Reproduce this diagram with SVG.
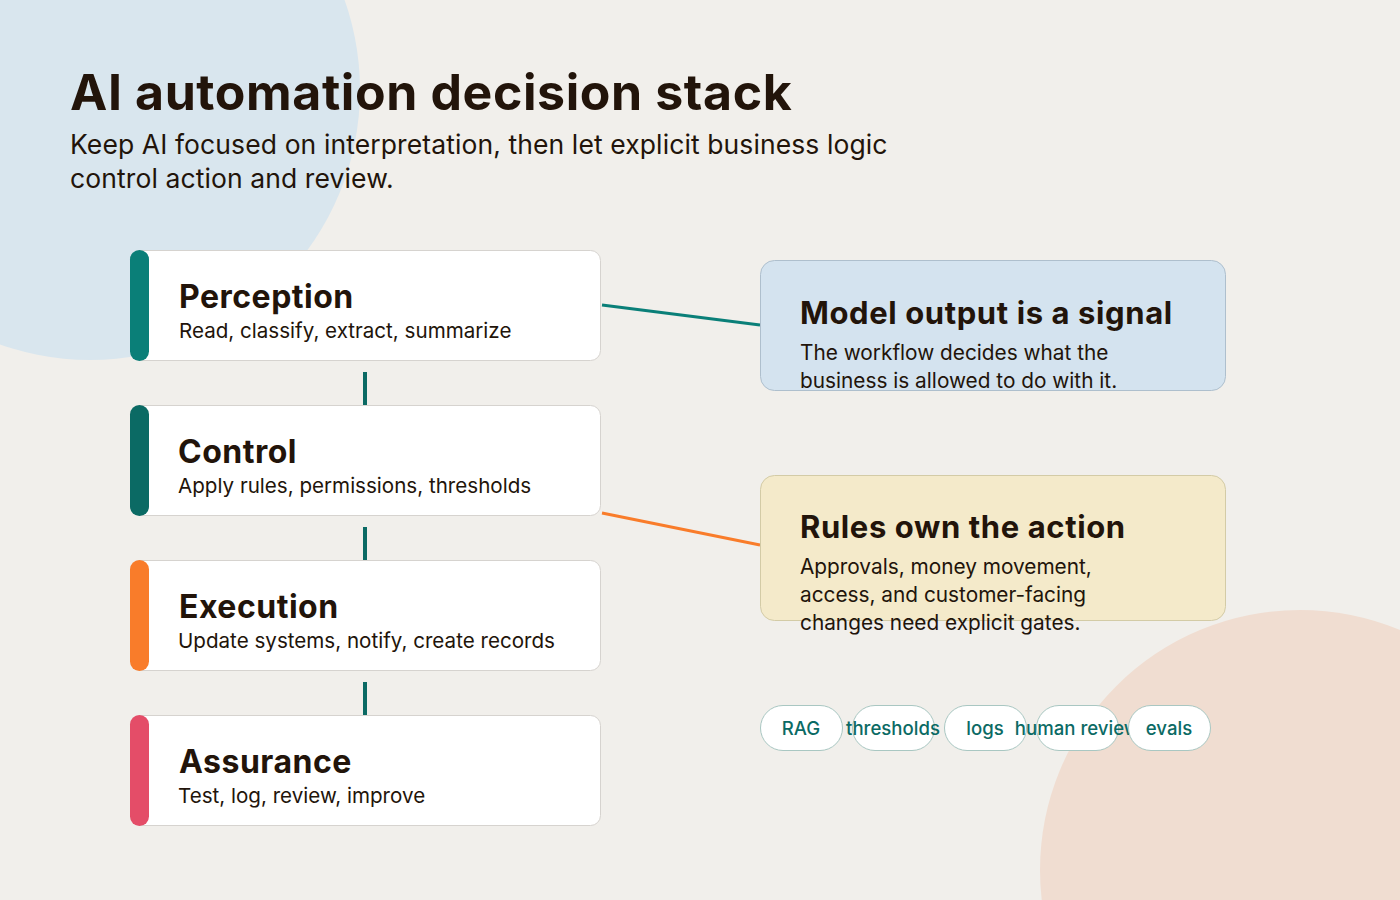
<svg xmlns="http://www.w3.org/2000/svg" width="1400" height="900" viewBox="0 0 1400 900">
<defs>
<style>
text{font-family:Inter,"Noto Sans","Liberation Sans",sans-serif;fill:#22140a}
.title{font-size:50px;font-weight:700;letter-spacing:0.6px}
.sub{font-size:26.5px;font-weight:400;letter-spacing:0.1px}
.card{fill:#ffffff;stroke:#d6d3cf;stroke-width:1}
.ct{font-size:32px;font-weight:700;letter-spacing:0.5px}
.cs{font-size:20.6px;font-weight:400}
.nt{font-size:31px;font-weight:700;letter-spacing:0.6px}
.nb{font-size:20.8px;font-weight:400}
.pill{fill:#ffffff;stroke:#a9c7c2;stroke-width:1}
.pt{font-size:18.6px;font-weight:500;fill:#0b6a64;text-anchor:middle}
.vl{stroke:#0b6a64;stroke-width:4}
</style>
</defs>
<rect width="1400" height="900" fill="#f1efeb"/>
<circle cx="90" cy="90" r="270" fill="#d9e6ee"/>
<circle cx="1300" cy="870" r="260" fill="#f0ddd1"/>
<g id="header">
<text class="title" x="70" y="110">AI automation decision stack</text>
<text class="sub" x="70" y="154">Keep AI focused on interpretation, then let explicit business logic</text>
<text class="sub" x="70" y="188">control action and review.</text>
</g>
<g id="connectors">
<line class="vl" x1="365" y1="372" x2="365" y2="405"/>
<line class="vl" x1="365" y1="527" x2="365" y2="560"/>
<line class="vl" x1="365" y1="682" x2="365" y2="715"/>
<line x1="602" y1="305" x2="760" y2="325" stroke="#0a7f78" stroke-width="3"/>
<line x1="602" y1="513" x2="760" y2="545" stroke="#f97c2a" stroke-width="3"/>
</g>
<g id="perception">
<rect class="card" x="130.5" y="250.5" width="470" height="110" rx="10"/>
<rect x="130" y="250" width="19" height="111" rx="9.5" fill="#0a7f78"/>
<text class="ct" x="179" y="308">Perception</text>
<text class="cs" x="179" y="338">Read, classify, extract, summarize</text>
</g>
<g id="control">
<rect class="card" x="130.5" y="405.5" width="470" height="110" rx="10"/>
<rect x="130" y="405" width="19" height="111" rx="9.5" fill="#0b6a64"/>
<text class="ct" x="178" y="463">Control</text>
<text class="cs" x="178" y="493">Apply rules, permissions, thresholds</text>
</g>
<g id="execution">
<rect class="card" x="130.5" y="560.5" width="470" height="110" rx="10"/>
<rect x="130" y="560" width="19" height="111" rx="9.5" fill="#f97c2a"/>
<text class="ct" x="179" y="618">Execution</text>
<text class="cs" x="178" y="648">Update systems, notify, create records</text>
</g>
<g id="assurance">
<rect class="card" x="130.5" y="715.5" width="470" height="110" rx="10"/>
<rect x="130" y="715" width="19" height="111" rx="9.5" fill="#e44d68"/>
<text class="ct" x="179" y="773">Assurance</text>
<text class="cs" x="178" y="803">Test, log, review, improve</text>
</g>
<g id="signal">
<rect x="760.5" y="260.5" width="465" height="130" rx="14" fill="#d4e3ef" stroke="#aebfcd"/>
<text class="nt" x="800" y="324">Model output is a signal</text>
<text class="nb" x="800" y="360">The workflow decides what the</text>
<text class="nb" x="800" y="388">business is allowed to do with it.</text>
</g>
<g id="rules">
<rect x="760.5" y="475.5" width="465" height="145" rx="14" fill="#f4eaca" stroke="#d3cba6"/>
<text class="nt" x="800" y="538">Rules own the action</text>
<text class="nb" x="800" y="574">Approvals, money movement,</text>
<text class="nb" x="800" y="602">access, and customer-facing</text>
<text class="nb" x="800" y="630">changes need explicit gates.</text>
</g>
<g id="pill-rag">
<rect class="pill" x="760.5" y="705.5" width="82" height="45" rx="22.5"/>
<text class="pt" x="801" y="735">RAG</text>
</g>
<g id="pill-thresholds">
<rect class="pill" x="852.5" y="705.5" width="82" height="45" rx="22.5"/>
<text class="pt" x="893" y="735">thresholds</text>
</g>
<g id="pill-logs">
<rect class="pill" x="944.5" y="705.5" width="82" height="45" rx="22.5"/>
<text class="pt" x="985" y="735">logs</text>
</g>
<g id="pill-human">
<rect class="pill" x="1036.5" y="705.5" width="82" height="45" rx="22.5"/>
<text class="pt" x="1077" y="735">human review</text>
</g>
<g id="pill-evals">
<rect class="pill" x="1128.5" y="705.5" width="82" height="45" rx="22.5"/>
<text class="pt" x="1169" y="735">evals</text>
</g>
</svg>
